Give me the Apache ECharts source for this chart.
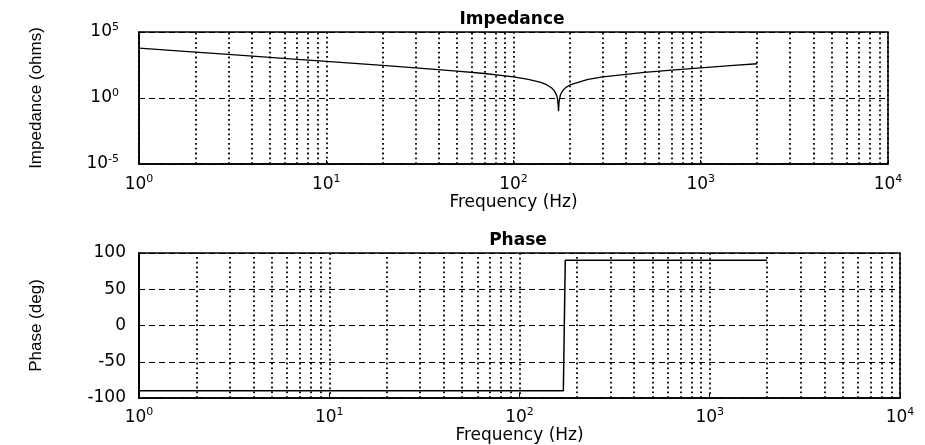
<!DOCTYPE html>
<html><head><meta charset="utf-8">
<script src="https://cdn.jsdelivr.net/npm/echarts@6/dist/echarts.min.js"></script>
<style>html,body{margin:0;padding:0;background:#fff}#c{width:925px;height:445px}</style>
</head><body><div id="c"></div>
<script>
// Frequency samples (Hz)
const freq = [1,2,3,5,7,10,20,30,50,70,100,120,140,150,160,165,170,172,173,174,175,176,178,180,185,190,200,250,300,500,700,1000,1500,2000];
// Impedance magnitude (ohms)
const impedance = [6006,3003,2001,1200,857,599,296,194,110,72,40.2,26.2,15.1,10.2,5.7,3.6,1.57,0.76,0.36,0.1,0.44,0.83,1.61,2.38,4.28,6.1,9.7,25.6,39.6,87.3,130,192.6,294,394];
// Phase (deg)
const phase = [-90,-90,-90,-90,-90,-90,-90,-90,-90,-90,-90,-90,-90,-90,-90,-90,-90,-90,-90,90,90,90,90,90,90,90,90,90,90,90,90,90,90,90];
// Minor log-grid frequencies
const minorGridFreq = [2,3,4,5,6,7,8,9,20,30,40,50,60,70,80,90,200,300,400,500,600,700,800,900,2000,3000,4000,5000,6000,7000,8000,9000];
const phaseTicks = [-100,-50,0,50,100];

const FONT = 'DejaVu Sans';
const NARROW = 'Liberation Sans Narrow, Liberation Sans';
const dotted = {color:'#000', width:1.8, type:[1.8,3]};
const dashed = {color:'#000', width:1, type:[6,4]};
const supLabel = v => {
  const e = Math.round(Math.log10(v));
  return '{b|10}{s|' + e + '}';
};
const rich = {
  b:{fontFamily:FONT, fontSize:17, color:'#000'},
  s:{fontFamily:FONT, fontSize:11, color:'#000', padding:[0,0,10,0]}
};
const minorMarks = {
  silent:true, symbol:['none','none'], label:{show:false},
  lineStyle:dotted, animation:false,
  data: minorGridFreq.map(f => ({xAxis:f}))
};

const chart = echarts.init(document.getElementById('c'), null, {renderer:'canvas'});
chart.setOption({
  animation:false,
  backgroundColor:'#fff',
  title:[
    {text:'Impedance', left:507, top:6, textAlign:'center',
     textStyle:{fontFamily:FONT, fontSize:17, fontWeight:'bold', color:'#000'}},
    {text:'Phase', left:513, top:227, textAlign:'center',
     textStyle:{fontFamily:FONT, fontSize:17, fontWeight:'bold', color:'#000'}}
  ],
  grid:[
    {left:139, top:32, width:749, height:132, show:true, borderColor:'#000', borderWidth:1.5, backgroundColor:'#fff', containLabel:false, outerBoundsMode:'none'},
    {left:139, top:253, width:761, height:145, show:true, borderColor:'#000', borderWidth:1.5, backgroundColor:'#fff', containLabel:false, outerBoundsMode:'none'}
  ],
  xAxis:[
    {type:'log', logBase:10, gridIndex:0, min:1, max:10000,
     name:'Frequency (Hz)', nameLocation:'middle', nameGap:30,
     nameTextStyle:{fontFamily:FONT, fontSize:17, color:'#000'},
     axisLine:{onZero:false, lineStyle:{color:'#000', width:1.5}},
     axisTick:{inside:true, length:4, lineStyle:{color:'#000'}},
     axisLabel:{formatter:supLabel, rich:rich, margin:10},
     splitLine:{show:true, lineStyle:dotted}},
    {type:'log', logBase:10, gridIndex:1, min:1, max:10000,
     name:'Frequency (Hz)', nameLocation:'middle', nameGap:28,
     nameTextStyle:{fontFamily:FONT, fontSize:17, color:'#000'},
     axisLine:{onZero:false, lineStyle:{color:'#000', width:1.5}},
     axisTick:{inside:true, length:4, lineStyle:{color:'#000'}},
     axisLabel:{formatter:supLabel, rich:rich, margin:9},
     splitLine:{show:true, lineStyle:dotted}}
  ],
  yAxis:[
    {type:'log', logBase:10, gridIndex:0, min:1e-5, max:1e5, splitNumber:2,
     name:'Impedance (ohms)', nameLocation:'middle', nameGap:94, nameRotate:90,
     nameTextStyle:{fontFamily:NARROW, fontSize:17, color:'#000'},
     axisLine:{onZero:false, lineStyle:{color:'#000', width:1.5}},
     axisTick:{inside:true, length:4, lineStyle:{color:'#000'}},
     axisLabel:{formatter:supLabel, rich:rich, margin:20},
     splitLine:{show:true, lineStyle:dashed}},
    {type:'value', gridIndex:1, min:phaseTicks[0], max:phaseTicks[phaseTicks.length-1], interval:50,
     name:'Phase (deg)', nameLocation:'middle', nameGap:94, nameRotate:90,
     nameTextStyle:{fontFamily:NARROW, fontSize:17, color:'#000'},
     axisLine:{onZero:false, lineStyle:{color:'#000', width:2}},
     axisTick:{inside:true, length:4, lineStyle:{color:'#000'}},
     axisLabel:{fontFamily:FONT, fontSize:17, color:'#000', margin:13},
     splitLine:{show:true, lineStyle:dashed}}
  ],
  series:[
    {type:'line', xAxisIndex:0, yAxisIndex:0, showSymbol:false, symbol:'none',
     lineStyle:{color:'#000', width:1.3},
     data: freq.map((f,i)=>[f, impedance[i]]),
     markLine: minorMarks, z:3},
    {type:'line', xAxisIndex:1, yAxisIndex:1, showSymbol:false, symbol:'none',
     lineStyle:{color:'#000', width:1.5},
     data: freq.map((f,i)=>[f, phase[i]]),
     markLine: minorMarks, z:3}
  ]
});
</script></body></html>
